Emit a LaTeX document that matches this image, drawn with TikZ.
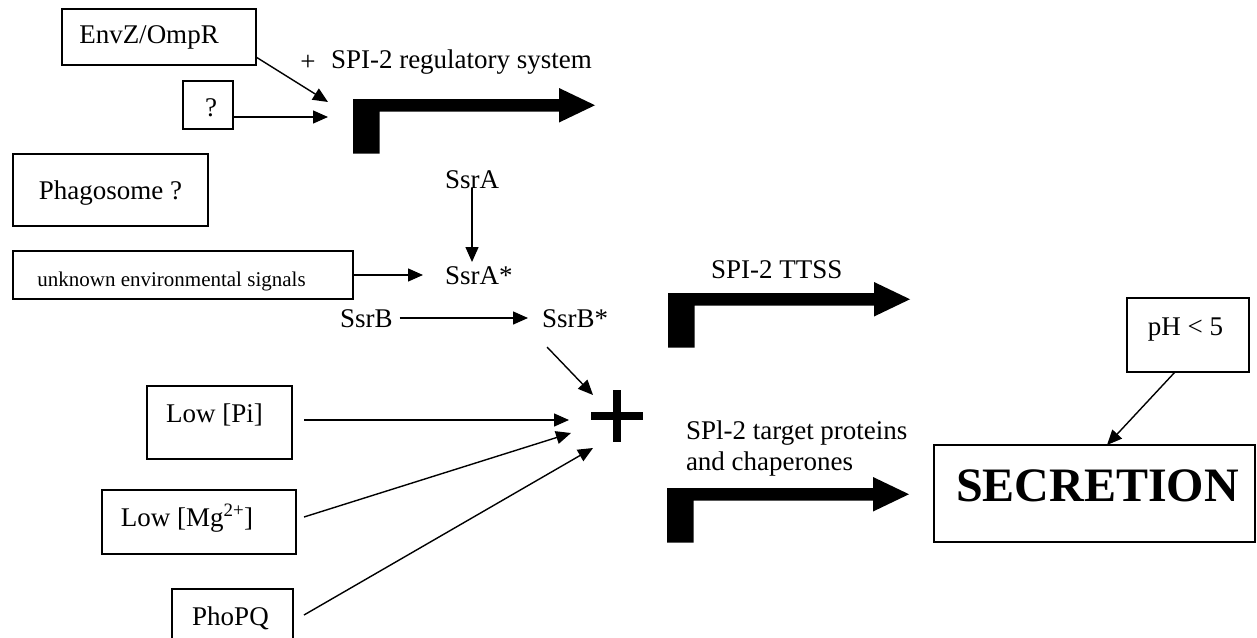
\documentclass[tikz,border=0pt]{standalone}
\usepackage{fontspec}
\setmainfont{Liberation Serif}
\usetikzlibrary{arrows.meta,calc}
\begin{document}
\begin{tikzpicture}[x=1pt,y=-1pt,
  every node/.style={inner sep=0pt, outer sep=0pt},
  txt/.style={font=\fontsize{27}{31}\selectfont, text height=18pt, text depth=0pt},
  small/.style={font=\fontsize{21}{25}\selectfont, text height=14pt, text depth=0pt},
  big/.style={font=\fontsize{48}{56}\selectfont\bfseries, text height=32pt, text depth=0pt},
  box/.style={draw, line width=1.3pt},
  link/.style={line width=1.4pt, -{Triangle[length=15pt,width=13pt]}},
  promoter/.pic={\fill (0,0) -- (206,0) -- (206,-11) -- (242,6.25) -- (206,23.5)
     -- (206,12.5) -- (26.5,12.5) -- (26.5,54.5) -- (0,54.5) -- cycle;}
]
\useasboundingbox (0,0) rectangle (1257,637);

% signal boxes
\node[box, minimum width=194pt, minimum height=56pt,
  label={[txt, xshift=-10pt, yshift=3pt]center:EnvZ/OmpR}] (envz) at (159,37) {};
\node[box, minimum width=50pt, minimum height=48pt,
  label={[txt, xshift=3pt, yshift=-2.5pt]center:?}] (q) at (208,105) {};
\node[box, minimum width=195pt, minimum height=72pt,
  label={[txt]center:Phagosome ?}] (phago) at (110.5,190) {};
\node[box, minimum width=340pt, minimum height=48pt,
  label={[small, xshift=-11.5pt, yshift=-4pt]center:unknown environmental signals}] (unk) at (183,275) {};
\node[box, minimum width=145pt, minimum height=73pt,
  label={[txt, xshift=-5pt, yshift=9.5pt]center:Low [Pi]}] (lowpi) at (219.5,422.5) {};
\node[box, minimum width=194pt, minimum height=64pt,
  label={[txt, xshift=-12pt, yshift=5pt]center:Low [Mg\textsuperscript{2+}]}] (mg) at (199,522) {};
\node[box, minimum width=121pt, minimum height=61pt,
  label={[txt, xshift=-2pt, yshift=3.5pt]center:PhoPQ}] (pho) at (232.5,619.5) {};
\node[box, minimum width=122pt, minimum height=74pt,
  label={[txt, xshift=-2.5pt, yshift=8.5pt]center:pH < 5}] (ph) at (1188,335) {};
\node[box, minimum width=321pt, minimum height=97pt,
  label={[big, xshift=3pt, yshift=8.5pt]center:SECRETION}] (secr) at (1094.5,493.5) {};

% free labels
\node[txt, anchor=base] (envplus) at (308,70) {+};
\node[txt, anchor=base west] (reglbl) at (331,68) {SPI-2 regulatory system};
\node[txt, anchor=base west] (ttsslbl) at (711,278) {SPI-2 TTSS};
\node[font=\fontsize{27}{31}\selectfont, anchor=north west, align=left] (tgtlbl) at (686,421)
  {SPl-2 target proteins\\and chaperones};
\node[txt, anchor=base west] (ssra) at (445,188) {SsrA};
\node[txt, anchor=base west] (ssras) at (445,284) {SsrA*};
\node[txt, anchor=base west] (ssrb) at (340,327) {SsrB};
\node[txt, anchor=base west] (ssrbs) at (542,327) {SsrB*};

% promoters (bent arrows)
\coordinate (reg) at (353,99);
\coordinate (ttss) at (668,293);
\coordinate (tgt) at (667,488);
\pic at (reg) {promoter};
\pic at (ttss) {promoter};
\pic at (tgt) {promoter};

% summing point
\node[minimum size=52pt] (plus) at (617,416) {};
\draw[line width=8pt] (plus.north) -- (plus.south) (plus.west) -- (plus.east);

% connectors
\draw[link] ($(envz.south east)+(0,-8)$) -- ($(reg)+(-25,3)$);
\draw[link] ($(q.east)+(0,12)$) -- ($(reg)+(-25,18)$);
\draw[link, shorten >=4pt] (ssra.south) -- (ssra.south |- ssras.north);
\draw[link] (unk.east) -- ([xshift=-22pt]ssras.west);
\draw[link] ([xshift=7pt]ssrb.east) -- ([xshift=-14pt]ssrbs.west);
\draw[link] ($(ssrbs.south west)+(5,20)$) -- ($(plus.north west)+(2,5)$);
\draw[link] ($(lowpi.east)+(12,-2.5)$) -- ($(plus.west)+(-22,4)$);
\draw[link] ($(mg.east)+(8,-5)$) -- ($(plus.west)+(-20,17)$);
\draw[link] ($(pho.east)+(11,-4.5)$) -- ($(plus.south west)+(2,6)$);
\draw[link] ($(ph.south)+(-13,0)$) -- ($(secr.north)+(12.5,0)$);
\end{tikzpicture}
\end{document}
